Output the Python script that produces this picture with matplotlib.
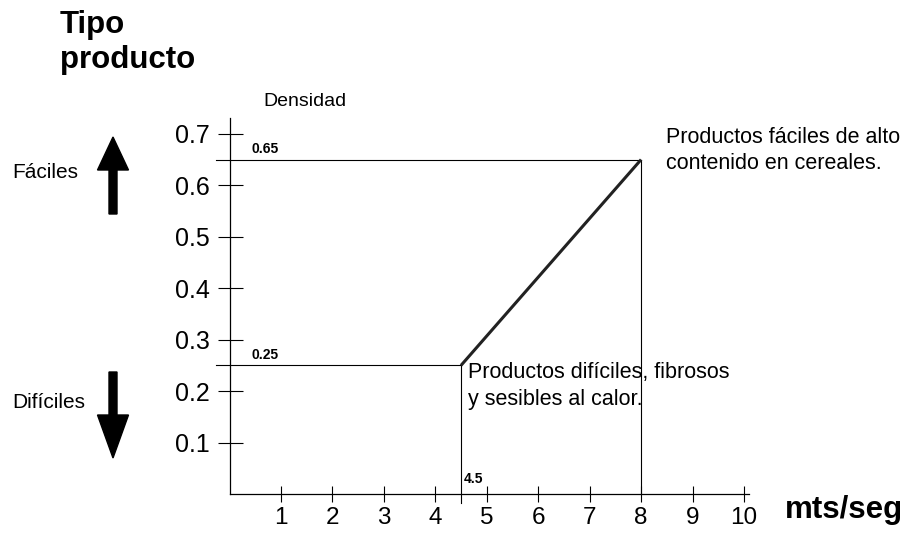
import matplotlib
matplotlib.use("Agg")
import matplotlib.pyplot as plt
from matplotlib.patches import FancyArrow

plt.rcParams['font.family'] = ['Liberation Sans', 'DejaVu Sans']

# data
speed = [4.5, 8]          # mts/seg
density = [0.25, 0.65]    # Densidad
x_ticks = [1, 2, 3, 4, 5, 6, 7, 8, 9, 10]
y_ticks = [0.1, 0.2, 0.3, 0.4, 0.5, 0.6, 0.7]
y_tick_labels = ["0.1", "0.2", "0.3", "0.4", "0.5", "0.6", "0.7"]
label_hard = "Productos difíciles, fibrosos\ny sesibles al calor."
label_easy = "Productos fáciles de alto\ncontenido en cereales."

W, H = 905, 533
fig = plt.figure(figsize=(W / 100, H / 100), dpi=100)
x0_px, y0_px = 229.5, 494.0
unit_x = 51.45
unit_y = 514.5
xmax, ymax = 10.1, 0.73
ax = fig.add_axes([x0_px / W, (H - y0_px) / H, xmax * unit_x / W, ymax * unit_y / H])
ax.set_xlim(0, xmax)
ax.set_ylim(0, ymax)
for s in ['top', 'right']:
    ax.spines[s].set_visible(False)
for s in ['left', 'bottom']:
    ax.spines[s].set_linewidth(0.9)

ax.set_xticks(x_ticks)
ax.set_xticklabels([str(v) for v in x_ticks])
ax.set_yticks(y_ticks)
ax.set_yticklabels(y_tick_labels)
ax.tick_params(axis='x', direction='inout', length=11, width=0.8, labelsize=17.5, pad=4)
ax.tick_params(axis='y', direction='inout', length=18, width=0.8, labelsize=18, pad=5)

# guide lines
for xv, yv in zip(speed, density):
    ax.plot([-0.26, xv], [yv, yv], color='black', lw=0.8, clip_on=False)
    ax.plot([xv, xv], [-0.017 if xv == speed[0] else 0, yv], color='black', lw=0.8, clip_on=False)
# main transition line
ax.plot(speed, density, color='#222222', lw=2.2, solid_capstyle='butt')

# small value labels
ax.text(0.42, density[1] + 0.006, f"{density[1]:.2f}", fontsize=10, fontweight='bold', va='bottom', ha='left')
ax.text(0.42, density[0] + 0.006, f"{density[0]:.2f}", fontsize=10, fontweight='bold', va='bottom', ha='left')
ax.text(speed[0] + 0.05, 0.03, f"{speed[0]}", fontsize=10, fontweight='bold', va='center', ha='left')

ax.text(0.65, 0.762, "Densidad", fontsize=14, va='center', ha='left', clip_on=False)
ax.text(8.48, 0.713, label_easy, fontsize=15.5, va='top', ha='left', linespacing=1.3, clip_on=False)
ax.text(4.64, 0.256, label_hard, fontsize=15.5, va='top', ha='left', linespacing=1.35, clip_on=False)

# figure-level titles
fig.text(60 / W, 1 - 10 / H, "Tipo\nproducto", fontsize=22.5, fontweight='bold', va='top', ha='left', linespacing=1.2)
fig.text(785 / W, 15 / H, "mts/seg", fontsize=22.5, fontweight='bold', va='baseline', ha='left')
fig.text(12 / W, 1 - 172 / H, "Fáciles", fontsize=15, va='center', ha='left')
fig.text(12 / W, 1 - 403 / H, "Difíciles", fontsize=15, va='center', ha='left')

# arrows (in inches)
up = FancyArrow(1.13, (H - 214) / 100, 0, (214 - 137) / 100, width=0.08, head_width=0.31,
                head_length=0.33, length_includes_head=True, color='black',
                transform=fig.dpi_scale_trans)
down = FancyArrow(1.13, (H - 372) / 100, 0, -(458 - 372) / 100, width=0.08, head_width=0.31,
                  head_length=0.43, length_includes_head=True, color='black',
                  transform=fig.dpi_scale_trans)
fig.patches.extend([up, down])

fig.savefig("out.png", dpi=100)
